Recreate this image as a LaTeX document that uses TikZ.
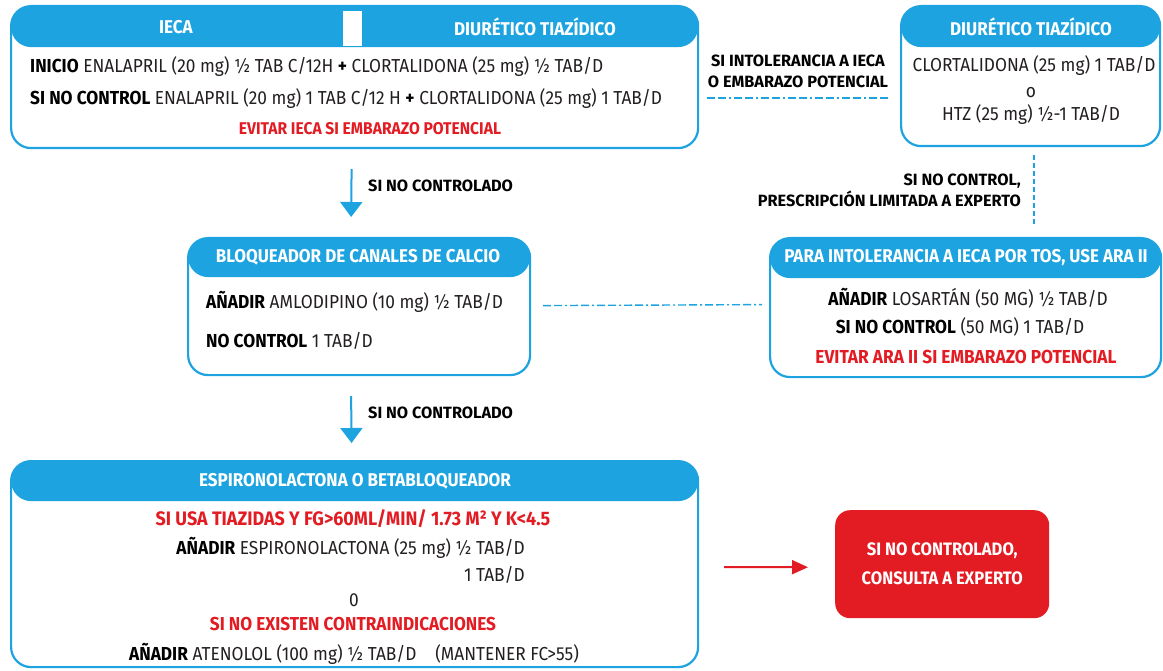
\documentclass[tikz,border=0pt]{standalone}
\usepackage{fontspec}
\setmainfont{Fira Sans}[FakeStretch=0.92]
\newfontfamily\fA{Fira Sans}[FakeStretch=0.8]
\newfontfamily\fB{Fira Sans}[FakeStretch=0.92]
\newfontfamily\fC{Fira Sans}[FakeStretch=1.0]
\usetikzlibrary{arrows.meta}
\definecolor{cblue}{HTML}{1DA4E0}
\definecolor{cred}{HTML}{E31B23}
\definecolor{ctext}{HTML}{231F20}
\newcommand\kwb[1]{{\bfseries\color{black}#1}}
\begin{document}
\begin{tikzpicture}[x=1pt,y=-1pt,
  box/.style={draw=cblue, line width=2.2pt, rounded corners=20pt, inner sep=0pt, fill=white,
    path picture={\fill[cblue] ([yshift=3pt]path picture bounding box.north west) rectangle ([yshift=-#1]path picture bounding box.north east);}},
  body/.style={font=\fB\fontsize{18.8}{22}\selectfont, text=ctext, inner sep=0pt},
  hdr/.style={font=\fB\bfseries\fontsize{18.5}{22}\selectfont, text=white, inner sep=0pt},
  lbl/.style={font=\fC\bfseries\fontsize{16.3}{21}\selectfont, text=black, inner sep=0pt},
  warn/.style={font=\fB\bfseries\fontsize{17}{20}\selectfont, text=cred, inner sep=0pt},
  barrow/.style={draw=cblue, line width=2pt, -{Triangle[width=22pt,length=15pt]}},
  rarrow/.style={draw=cred, line width=2pt, -{Triangle[width=14pt,length=16pt]}},
  dd/.style={draw=cblue, line width=1.4pt, dash pattern=on 8pt off 3pt on 8pt off 3pt on 2pt off 3pt},
  vd/.style={draw=cblue, line width=1.8pt, dash pattern=on 5pt off 3pt}
]
\useasboundingbox[fill=white] (0,0) rectangle (1163,671);

% boxes
\node[box=41pt, minimum width=687pt, minimum height=142pt, anchor=north west] (b1) at (10,5) {};
\fill[white] (343,11) rectangle (362,46);
\node[box=41pt, minimum width=259pt, minimum height=140pt, anchor=north west] (b2) at (900,5) {};
\node[box=39pt, minimum width=342pt, minimum height=137pt, anchor=north west] (b3) at (187,237) {};
\node[box=40pt, minimum width=391pt, minimum height=139pt, anchor=north west] (b4) at (769,237) {};
\node[box=40pt, minimum width=687pt, minimum height=206pt, anchor=north west] (b5) at (10,460) {};
\node[fill=cred, rounded corners=15pt, minimum width=214pt, minimum height=108pt, anchor=north west,
  text=white, align=center, font=\fB\bfseries\fontsize{18}{29}\selectfont] (b6) at (835,510)
  {SI NO CONTROLADO,\\CONSULTA A EXPERTO};

% headers
\node[hdr] (h1a) at (176,27) {IECA};
\node[hdr] (h1b) at (535,27) {DIURÉTICO TIAZÍDICO};
\node[hdr] (h2) at (1031,27) {DIURÉTICO TIAZÍDICO};
\node[hdr] (h3) at (358,257) {BLOQUEADOR DE CANALES DE CALCIO};
\node[hdr] (h4) at (966,258) {PARA INTOLERANCIA A IECA POR TOS, USE ARA II};
\node[hdr] (h5) at (355,481) {ESPIRONOLACTONA O BETABLOQUEADOR};

% box 1 text
\node[body, anchor=west] (t11) at (30,67) {\kwb{INICIO} ENALAPRIL (20 mg) ½ TAB C/12H \kwb{+} CLORTALIDONA (25 mg) ½ TAB/D};
\node[body, anchor=west] (t12) at (30,99) {\kwb{SI NO CONTROL} ENALAPRIL (20 mg) 1 TAB C/12 H \kwb{+} CLORTALIDONA (25 mg) 1 TAB/D};
\node[warn] (t13) at (370,129) {EVITAR IECA SI EMBARAZO POTENCIAL};

% box 2 text
\node[body] (t21) at (1034,66) {CLORTALIDONA (25 mg) 1 TAB/D};
\node[body] (t22) at (1031,93) {o};
\node[body] (t23) at (1031,115) {HTZ (25 mg) ½-1 TAB/D};

% box 3 text
\node[body, anchor=west] (t31) at (206,302) {\kwb{AÑADIR} AMLODIPINO (10 mg) ½ TAB/D};
\node[body, anchor=west] (t32) at (206,341) {\kwb{NO CONTROL} 1 TAB/D};

% box 4 text
\node[body] (t41) at (968,298) {\kwb{AÑADIR} LOSARTÁN (50 MG) ½ TAB/D};
\node[body] (t42) at (960,327) {\kwb{SI NO CONTROL} (50 MG) 1 TAB/D};
\node[warn, font=\fB\bfseries\fontsize{18.8}{20}\selectfont] (t43) at (966,357) {EVITAR ARA II SI EMBARAZO POTENCIAL};

% box 5 text
\node[warn, font=\fB\bfseries\fontsize{19.5}{22}\selectfont] (t51) at (353,519) {SI USA TIAZIDAS Y FG>60ML/MIN/ 1.73 M² Y K<4.5};
\node[body, anchor=east] (t52) at (525,548) {\kwb{AÑADIR} ESPIRONOLACTONA (25 mg) ½ TAB/D};
\node[body, anchor=east] (t53) at (525,575) {1 TAB/D};
\node[body] (t54) at (354,600) {0};
\node[warn, font=\fB\bfseries\fontsize{18.7}{22}\selectfont] (t55) at (353,624) {SI NO EXISTEN CONTRAINDICACIONES};
\node[body] (t56) at (354,654) {\kwb{AÑADIR} ATENOLOL (100 mg) ½ TAB/D\quad (MANTENER FC>55)};

% labels
\node[lbl, align=center] (l1) at (798,71) {SI INTOLERANCIA A IECA\\O EMBARAZO POTENCIAL};
\node[lbl, align=right, anchor=east] (l2) at (1021,190) {SI NO CONTROL,\\PRESCRIPCIÓN LIMITADA A EXPERTO};
\node[lbl, anchor=west] (l3) at (368,186) {SI NO CONTROLADO};
\node[lbl, anchor=west] (l4) at (368,413) {SI NO CONTROLADO};

% connectors
\draw[barrow] ([shift={(-3,20)}]b1.south) -- ([shift={(-8,-20)}]b3.north);
\draw[barrow] ([shift={(-8,20)}]b3.south) -- ([shift={(-3,-17)}]b5.north);
\draw[dd] ([shift={(8,21)}]b1.east) -- ([shift={(-10,22)}]b2.west);
\coordinate (v1) at ([shift={(3,8)}]b2.south);
\coordinate (v2) at (v1 |- b4.north);
\draw[vd] (v1) -- ([yshift=10pt]v2);
\draw[dd] ([shift={(12,-1)}]b3.east) -- ([shift={(-7,-3)}]b4.west);
\draw[rarrow] ([shift={(25,3)}]b5.east) -- ([shift={(-27,3)}]b6.west);
\end{tikzpicture}
\end{document}
